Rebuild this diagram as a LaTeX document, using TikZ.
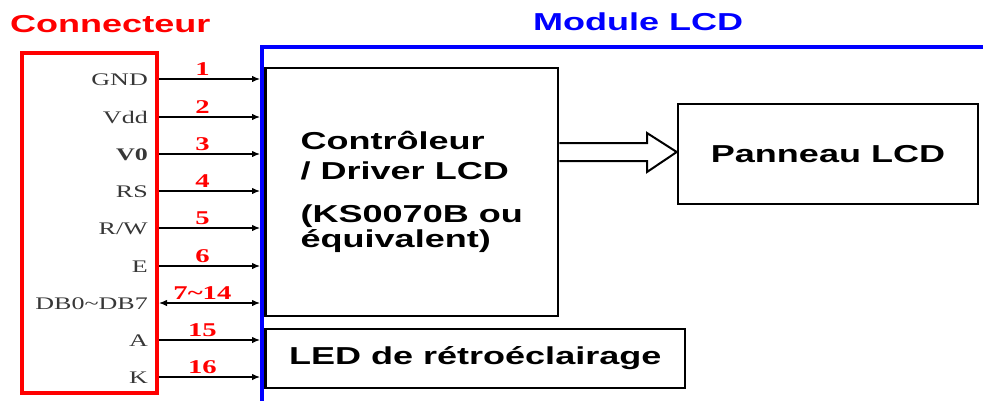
\documentclass[tikz,border=0pt]{standalone}
\usepackage{fontspec}
\setmainfont{Liberation Serif}[FakeStretch=1.47]
\newfontfamily\widesans{Liberation Sans}[FakeStretch=1.47]
\usetikzlibrary{arrows.meta}
\definecolor{modblue}{RGB}{0,0,255}
\definecolor{pingray}{RGB}{55,55,55}
\tikzset{
    lcdpic/.style={
        x=1pt, y=-1pt,
        >={Latex[length=8pt,width=6.5pt]},
        line join=miter,
    },
    titletext/.style={anchor=base west, inner sep=0pt, font=\widesans\bfseries\fontsize{24.5}{30}\selectfont},
    blockbox/.style={draw, line width=2.5pt, inner sep=0pt, align=left,
        font=\widesans\bfseries\fontsize{24.5}{30}\selectfont},
    pinlabel/.style={anchor=east, inner sep=0pt, text height=13pt, text depth=0pt,
        text=pingray, font=\fontsize{17.7}{20}\selectfont},
    pinnum/.style={above, pos=.43, inner sep=3pt, text=red,
        font=\bfseries\fontsize{19.5}{22}\selectfont},
    wire/.style={line width=1.2pt},
}

\begin{document}
\begin{tikzpicture}[lcdpic]
    \useasboundingbox (0,0) rectangle (983,400);
    \clip (0,0) rectangle (983,400);
    % frames
    \node[titletext, text=red] (conntitle) at (10,32) {Connecteur};
    \node[titletext, text=modblue] (modtitle) at (533,30) {Module LCD};
    \node[draw=modblue, line width=4pt, anchor=north west, inner sep=0pt,
        minimum width=760pt, minimum height=380pt] (module) at (260,45) {};
    \node[draw=red, line width=4pt, inner sep=0pt,
        minimum width=135pt, minimum height=340pt] (conn) at (89.5,223) {};
    % blocks of the module
    \node[blockbox, minimum width=292.5pt, minimum height=248pt] (ctrl) at (411.75,192)
        {Contrôleur\\ / Driver LCD\\[13pt] (KS0070B ou\\[-5pt] équivalent)};
    \node[blockbox, minimum width=300pt, minimum height=100pt] (panel) at (828,154) {Panneau LCD};
    \node[blockbox, minimum width=419.5pt, minimum height=59pt] (led) at (475.25,358.5)
        {LED de rétroéclairage};
    \draw[line width=2pt, fill=white] (ctrl.east |- 0,143) -- (647,143) -- (647,133)
        -- (panel.west |- 0,152) -- (647,172) -- (647,161) -- (ctrl.east |- 0,161);
    % pins
    \foreach \lbl/\num/\ypos/\tip [count=\i] in {GND/1/79/->, Vdd/2/117/->,
            \textbf{V0}/3/154/->, RS/4/191/->, {R/W}/5/228/->, E/6/266/->,
            DB0\textasciitilde DB7/7\textasciitilde 14/303/<->, A/15/340/->, K/16/377/->}{
        \node[pinlabel] (pin\i) at (148,\ypos) {\lbl};
        \draw[wire,\tip] (conn.east |- pin\i.east) -- (module.west |- pin\i.east)
            node[pinnum] {\num};
    }
\end{tikzpicture}
\end{document}
